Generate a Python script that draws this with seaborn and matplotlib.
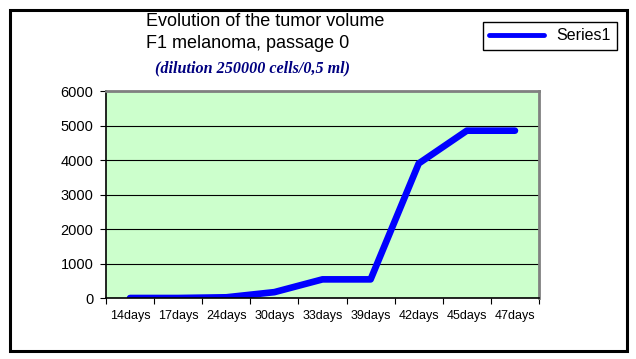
import pandas as pd
import seaborn as sns
import matplotlib.pyplot as plt
from matplotlib.patches import Rectangle
from matplotlib.ticker import FixedLocator, NullFormatter

# 数据
days = ["14days", "17days", "24days", "30days", "33days",
        "39days", "42days", "45days", "47days"]
volume = [0, 0, 20, 170, 540, 540, 3900, 4850, 4850]

df = pd.DataFrame({"day": days, "volume": volume, "series": "Series1"})

sns.set_theme(style="white")
plt.rcParams['font.family'] = ['Liberation Sans', 'DejaVu Sans']
plt.rcParams['text.color'] = 'black'
plt.rcParams['xtick.color'] = 'black'
plt.rcParams['ytick.color'] = 'black'

fig = plt.figure(figsize=(6.36, 3.59), dpi=100)
ax = fig.add_axes([106 / 636, 1 - 298 / 359, 433 / 636, 207 / 359])

sns.lineplot(data=df, x="day", y="volume", hue="series",
             palette=["#0000FF"], linewidth=4.8, ax=ax, legend=True)

ax.set_facecolor("#CCFFCC")
ax.set_xlim(-0.5, len(days) - 0.5)
ax.set_ylim(0, 6000)
ax.set_yticks(range(0, 6001, 1000))
ax.yaxis.grid(True, color="black", linewidth=0.8)
ax.set_axisbelow(True)
ax.set_xlabel("")
ax.set_ylabel("")

# x轴刻度在分类边界上，标签在中间
ax.xaxis.set_major_locator(FixedLocator([i - 0.5 for i in range(len(days) + 1)]))
ax.xaxis.set_major_formatter(NullFormatter())
ax.xaxis.set_minor_locator(FixedLocator(range(len(days))))
ax.set_xticklabels(days, minor=True)
ax.tick_params(axis="x", which="major", direction="out", length=4, width=0.8,
               color="black", bottom=True)
ax.tick_params(axis="x", which="minor", length=0, labelsize=9, pad=9, bottom=True)
ax.tick_params(axis="y", direction="out", length=4, width=0.8, color="black",
               left=True, labelsize=10.5, pad=5)

for s in ["left", "bottom"]:
    ax.spines[s].set_color("black")
    ax.spines[s].set_linewidth(1.2)
for s in ["top", "right"]:
    ax.spines[s].set_color("#808080")
    ax.spines[s].set_linewidth(2)

# 标题
fig.text(146 / 636, 1 - 22 / 359, "Evolution of the tumor volume",
         fontsize=13, ha="left", va="center")
fig.text(146 / 636, 1 - 43 / 359, "F1 melanoma, passage 0",
         fontsize=13, ha="left", va="center")
fig.text(155 / 636, 1 - 68 / 359, "(dilution 250000 cells/0,5 ml)",
         fontsize=11.6, ha="left", va="center", color="#000080",
         fontweight="bold", fontstyle="italic", family=["Liberation Serif"])

# 图例
leg = ax.legend(loc="center", bbox_to_anchor=(550 / 636, 1 - 36 / 359),
                bbox_transform=fig.transFigure, fancybox=False, frameon=True,
                edgecolor="black", fontsize=11.5, handlelength=3.4,
                borderpad=0.4, framealpha=1)
leg.get_frame().set_linewidth(1)
for line in leg.get_lines():
    line.set_linewidth(3.5)

# 外框
fig.patches.append(Rectangle((10 / 636, 1 - 351 / 359), 617 / 636, 341 / 359,
                             transform=fig.transFigure, fill=False,
                             edgecolor="black", linewidth=2.2))

fig.savefig("out.png", dpi=100)
